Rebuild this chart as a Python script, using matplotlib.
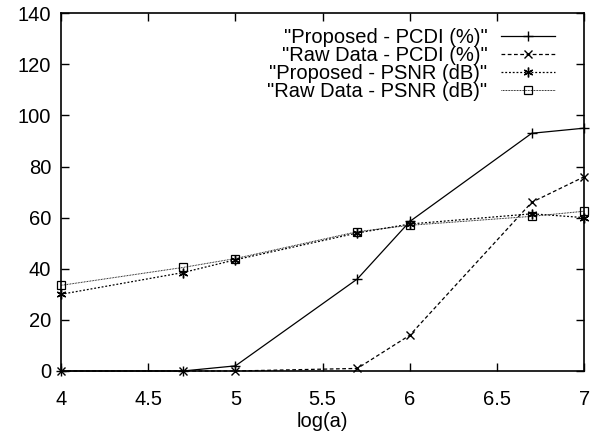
import matplotlib.pyplot as plt

plt.rcParams['font.family'] = ['Liberation Sans', 'DejaVu Sans']

# x positions: log10 of the a values
log_a = [4, 4.699, 5, 5.699, 6, 6.699, 7]

prop_pcdi = [0, 0, 2, 36, 58.5, 93, 95]
raw_pcdi = [0, 0, 0, 1, 14, 66, 76]
prop_psnr = [30, 38.5, 43.5, 54, 57.5, 61.5, 60]
raw_psnr = [33.5, 40.5, 44, 54.5, 57, 60.5, 62.5]

labels = ['"Proposed - PCDI (%)"', '"Raw Data - PCDI (%)"',
          '"Proposed - PSNR (dB)"', '"Raw Data - PSNR (dB)"']

fig = plt.figure(figsize=(5.98, 4.38), dpi=100)
ax = fig.add_axes([0.102, 0.153, 0.875, 0.817])

ax.plot(log_a, prop_pcdi, color='black', lw=0.9, linestyle='-',
        marker='+', ms=7, mew=1, label=labels[0], clip_on=False)
ax.plot(log_a, raw_pcdi, color='black', lw=0.9, linestyle=(0, (3, 2)),
        marker='x', ms=6, mew=1, label=labels[1], clip_on=False)
ax.plot(log_a, prop_psnr, color='black', lw=0.9, linestyle=(0, (1.5, 1.5)),
        marker=(6, 2, 0), ms=7, mew=1, label=labels[2], clip_on=False)
ax.plot(log_a, raw_psnr, color='black', lw=0.7, linestyle=(0, (0.8, 0.8)),
        marker='s', ms=6, mew=0.9, fillstyle='none', label=labels[3],
        clip_on=False)

ax.set_xlim(4, 7)
ax.set_ylim(0, 140)
ax.set_xticks([4, 4.5, 5, 5.5, 6, 6.5, 7])
ax.set_xticklabels(['4', '4.5', '5', '5.5', '6', '6.5', '7'])
ax.set_yticks(range(0, 141, 20))

# gnuplot style ticks: inside, on all four sides
ax.tick_params(direction='in', top=True, right=True, length=6, width=1,
               labelsize=14.5)
ax.tick_params(axis='x', pad=14)
ax.tick_params(axis='y', pad=7)
for s in ax.spines.values():
    s.set_linewidth(1.2)

ax.set_xlabel('log(a)', fontsize=14.5, labelpad=2)

ax.legend(loc='upper right', bbox_to_anchor=(0.945, 0.96),
          bbox_transform=fig.transFigure, frameon=False, markerfirst=False,
          fontsize=14.5, handlelength=2.7, labelspacing=-0.05,
          handletextpad=0.65, borderpad=0)

fig.savefig('out.png', dpi=100)
